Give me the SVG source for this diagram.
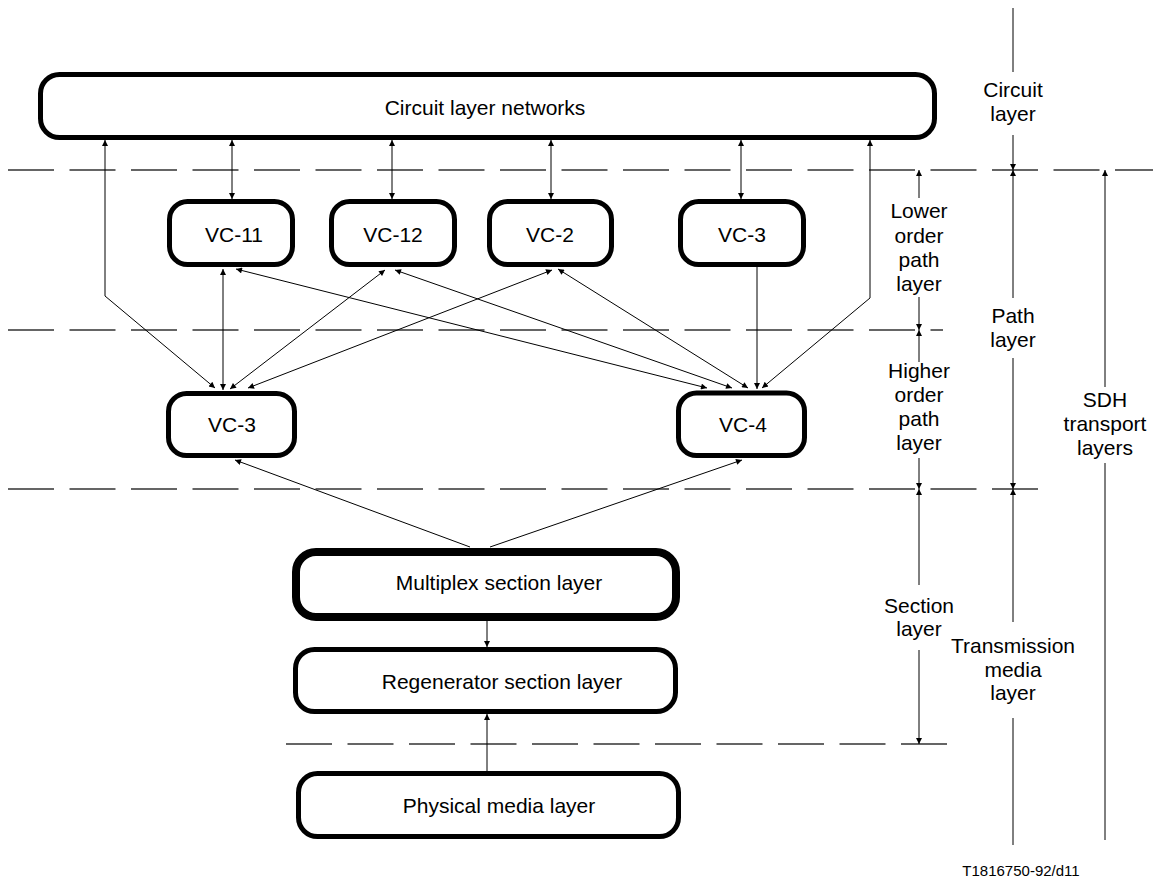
<svg xmlns="http://www.w3.org/2000/svg" width="1153" height="878" viewBox="0 0 1153 878">
  <style>
    text { font-family: "Liberation Sans", Arial, sans-serif; font-size: 21px; fill: #000; text-anchor: middle; }
    .box { fill: #fff; stroke: #000; stroke-width: 5; }
    .heavy { stroke-width: 8; }
    .dash { fill: none; stroke: #333; stroke-width: 1.3; stroke-dasharray: 46 15.5; }
    .wire { fill: none; stroke: #000; stroke-width: 1; }
    .both { marker-start: url(#ah); marker-end: url(#ah); }
    .end { marker-end: url(#ah); }
    .start { marker-start: url(#ah); }
    .code { font-size: 15px; }
  </style>
  <defs>
    <marker id="ah" viewBox="0 0 10 10" refX="10" refY="5" markerWidth="8" markerHeight="6" markerUnits="userSpaceOnUse" orient="auto-start-reverse">
      <path d="M0,0 L10,5 L0,10 Z" fill="#000"/>
    </marker>
  </defs>

  <!-- layer boundaries -->
  <g id="boundaries">
    <line class="dash" x1="8" y1="170" x2="1153" y2="170"/>
    <line class="dash" x1="8" y1="330" x2="943" y2="330"/>
    <line class="dash" x1="8" y1="489" x2="1038" y2="489"/>
    <line class="dash" x1="286" y1="744" x2="947" y2="744"/>
  </g>

  <!-- layer extents on the right -->
  <g id="scale" class="wire">
    <line x1="1013" y1="8" x2="1013" y2="72"/>
    <line class="end" x1="1013" y1="135" x2="1013" y2="170"/>
    <line class="start" x1="1013" y1="170" x2="1013" y2="298"/>
    <line class="end" x1="1013" y1="358" x2="1013" y2="489"/>
    <line class="start" x1="1013" y1="489" x2="1013" y2="622"/>
    <line x1="1013" y1="718" x2="1013" y2="845"/>

    <line class="start" x1="919" y1="170" x2="919" y2="198"/>
    <line class="end" x1="919" y1="297" x2="919" y2="330"/>
    <line class="start" x1="919" y1="330" x2="919" y2="362"/>
    <line class="end" x1="919" y1="458" x2="919" y2="489"/>
    <line class="start" x1="919" y1="489" x2="919" y2="585"/>
    <line class="end" x1="919" y1="650" x2="919" y2="744"/>

    <line class="start" x1="1105" y1="170" x2="1105" y2="387"/>
    <line x1="1105" y1="463" x2="1105" y2="840"/>
  </g>

  <g id="scale-labels">
    <text x="1013" y="97">Circuit</text>
    <text x="1013" y="121">layer</text>
    <text x="919" y="218">Lower</text>
    <text x="919" y="243">order</text>
    <text x="919" y="267">path</text>
    <text x="919" y="291">layer</text>
    <text x="1013" y="323">Path</text>
    <text x="1013" y="347">layer</text>
    <text x="919" y="378">Higher</text>
    <text x="919" y="402">order</text>
    <text x="919" y="426">path</text>
    <text x="919" y="450">layer</text>
    <text x="1105" y="407">SDH</text>
    <text x="1105" y="431">transport</text>
    <text x="1105" y="455">layers</text>
    <text x="919" y="613">Section</text>
    <text x="919" y="636">layer</text>
    <text x="1013" y="653">Transmission</text>
    <text x="1013" y="677">media</text>
    <text x="1013" y="700">layer</text>
  </g>

  <!-- connectors -->
  <g id="connectors" class="wire">
    <polyline class="both" points="105,140 105,296 215,388"/>
    <line class="both" x1="232" y1="140" x2="232" y2="199"/>
    <line class="both" x1="392" y1="140" x2="392" y2="199"/>
    <line class="both" x1="551" y1="140" x2="551" y2="199"/>
    <line class="both" x1="741" y1="140" x2="741" y2="199"/>
    <polyline class="both" points="870,140 870,298 762,388"/>

    <line class="both" x1="223" y1="269" x2="223" y2="390"/>
    <line class="both" x1="236" y1="269" x2="707" y2="388"/>
    <line class="both" x1="385" y1="270" x2="230" y2="389"/>
    <line class="both" x1="395" y1="270" x2="732" y2="388"/>
    <line class="both" x1="552" y1="270" x2="248" y2="388"/>
    <line class="both" x1="558" y1="269" x2="748" y2="388"/>
    <line class="end" x1="757" y1="267" x2="757" y2="389"/>

    <line class="end" x1="470" y1="547" x2="235" y2="460"/>
    <line class="end" x1="490" y1="547" x2="742" y2="460"/>
    <line class="end" x1="487" y1="621" x2="487" y2="647"/>
    <line class="end" x1="487" y1="771" x2="487" y2="714"/>
  </g>

  <!-- nodes -->
  <g id="circuit-layer-networks">
    <rect class="box" x="40.5" y="74.5" width="894" height="63" rx="19"/>
    <text x="485" y="115">Circuit layer networks</text>
  </g>
  <g id="vc11">
    <rect class="box" x="169.5" y="201.5" width="123" height="63" rx="18"/>
    <text x="234" y="242">VC-11</text>
  </g>
  <g id="vc12">
    <rect class="box" x="331.5" y="201.5" width="123" height="63" rx="18"/>
    <text x="393" y="242">VC-12</text>
  </g>
  <g id="vc2">
    <rect class="box" x="489.5" y="201.5" width="122" height="63" rx="18"/>
    <text x="550" y="242">VC-2</text>
  </g>
  <g id="vc3-lower">
    <rect class="box" x="680.5" y="201.5" width="123" height="63" rx="18"/>
    <text x="742" y="242">VC-3</text>
  </g>
  <g id="vc3-higher">
    <rect class="box" x="168.5" y="393.5" width="126" height="62" rx="18"/>
    <text x="232" y="432">VC-3</text>
  </g>
  <g id="vc4">
    <rect class="box" x="678.5" y="393" width="126" height="62.5" rx="18"/>
    <text x="743" y="432">VC-4</text>
  </g>
  <g id="multiplex-section">
    <rect class="box heavy" x="296" y="552" width="380" height="65" rx="20"/>
    <text x="499" y="590">Multiplex section layer</text>
  </g>
  <g id="regenerator-section">
    <rect class="box" x="295.5" y="649.5" width="380" height="62" rx="19"/>
    <text x="502" y="689">Regenerator section layer</text>
  </g>
  <g id="physical-media">
    <rect class="box" x="298.5" y="773.5" width="380" height="63" rx="19"/>
    <text x="499" y="813">Physical media layer</text>
  </g>

  <text class="code" x="1021" y="876">T1816750-92/d11</text>
</svg>
